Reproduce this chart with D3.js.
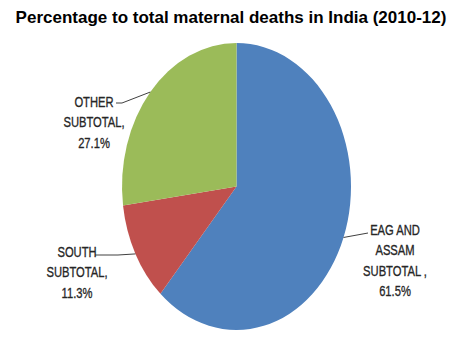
<!DOCTYPE html>
<html>
<head>
<meta charset="utf-8">
<script src="https://cdn.jsdelivr.net/npm/d3@7"></script>
<style>
  body { margin: 0; background: #fff; }
</style>
</head>
<body>
<div id="container"></div>
<script>
/* CONSTANTS AND GLOBALS */
const width = 457,
  height = 343;

// pie is drawn as an ellipse (wider radius, taller radius)
const cx = 236.5, cy = 186.5, rx = 114.5, ry = 143.5;

/* DATA */
const regions = ["EAG AND ASSAM SUBTOTAL", "SOUTH SUBTOTAL", "OTHER SUBTOTAL"];
const shares = [61.5, 11.3, 27.1];
const labelLines = [
  ["EAG AND", "ASSAM", "SUBTOTAL ,", "61.5%"],
  ["SOUTH", "SUBTOTAL,", "11.3%"],
  ["OTHER", "SUBTOTAL,", "27.1%"]
];

// where each label block sits and where its leader starts
const labelPos = [
  { x: 395, y: 235, lx0: 368, ly0: 233, lx1: 368 },
  { x: 77, y: 257, lx0: 95, ly0: 255, lx1: 118 },
  { x: 94, y: 107, lx0: 116, ly0: 103, lx1: 122 }
];

const colorScale = d3.scaleOrdinal()
  .domain(regions)
  .range(["#4F81BD", "#C0504D", "#9BBB59"]);

const svg = d3.select("#container")
  .append("svg")
  .attr("width", width)
  .attr("height", height);

// title
svg.append("text")
  .attr("x", 231)
  .attr("y", 23)
  .attr("text-anchor", "middle")
  .attr("font-family", "Liberation Sans, Arial, sans-serif")
  .attr("font-weight", "bold")
  .attr("font-size", 17)
  .attr("fill", "#000")
  .text("Percentage to total maternal deaths in India (2010-12)");

const data = regions.map((r, i) => ({ region: r, value: shares[i] }));

const pie = d3.pie()
  .sort(null)
  .value(d => d.value);

const arcs = pie(data);

const arc = d3.arc()
  .innerRadius(0)
  .outerRadius(rx);

svg.append("g")
  .attr("transform", `translate(${cx},${cy}) scale(1,${ry / rx})`)
  .selectAll("path")
  .data(arcs)
  .join("path")
  .attr("d", arc)
  .attr("fill", d => colorScale(d.data.region));

// leader lines: from the label to the slice's middle angle on the rim
arcs.forEach((a, i) => {
  const mid = (a.startAngle + a.endAngle) / 2;
  const ex = cx + rx * Math.sin(mid);
  const ey = cy - ry * Math.cos(mid);
  const p = labelPos[i];
  svg.append("polyline")
    .attr("points", `${p.lx0},${p.ly0} ${p.lx1},${p.ly0} ${ex},${ey}`)
    .attr("fill", "none")
    .attr("stroke", "#404040")
    .attr("stroke-width", 1);
});

// labels: narrow, slightly tall lettering
labelLines.forEach((lines, i) => {
  const p = labelPos[i];
  const g = svg.append("g")
    .attr("transform", `translate(${p.x},${p.y}) scale(0.83,1.15)`);
  g.selectAll("text")
    .data(lines)
    .join("text")
    .attr("x", 0)
    .attr("y", (d, j) => j * 17.8)
    .attr("text-anchor", "middle")
    .attr("font-family", "Liberation Sans, Arial, sans-serif")
    .attr("font-size", 13.5)
    .attr("fill", "#262626")
    .attr("stroke", "#262626")
    .attr("stroke-width", 0.3)
    .text(d => d);
});
</script>
</body>
</html>
